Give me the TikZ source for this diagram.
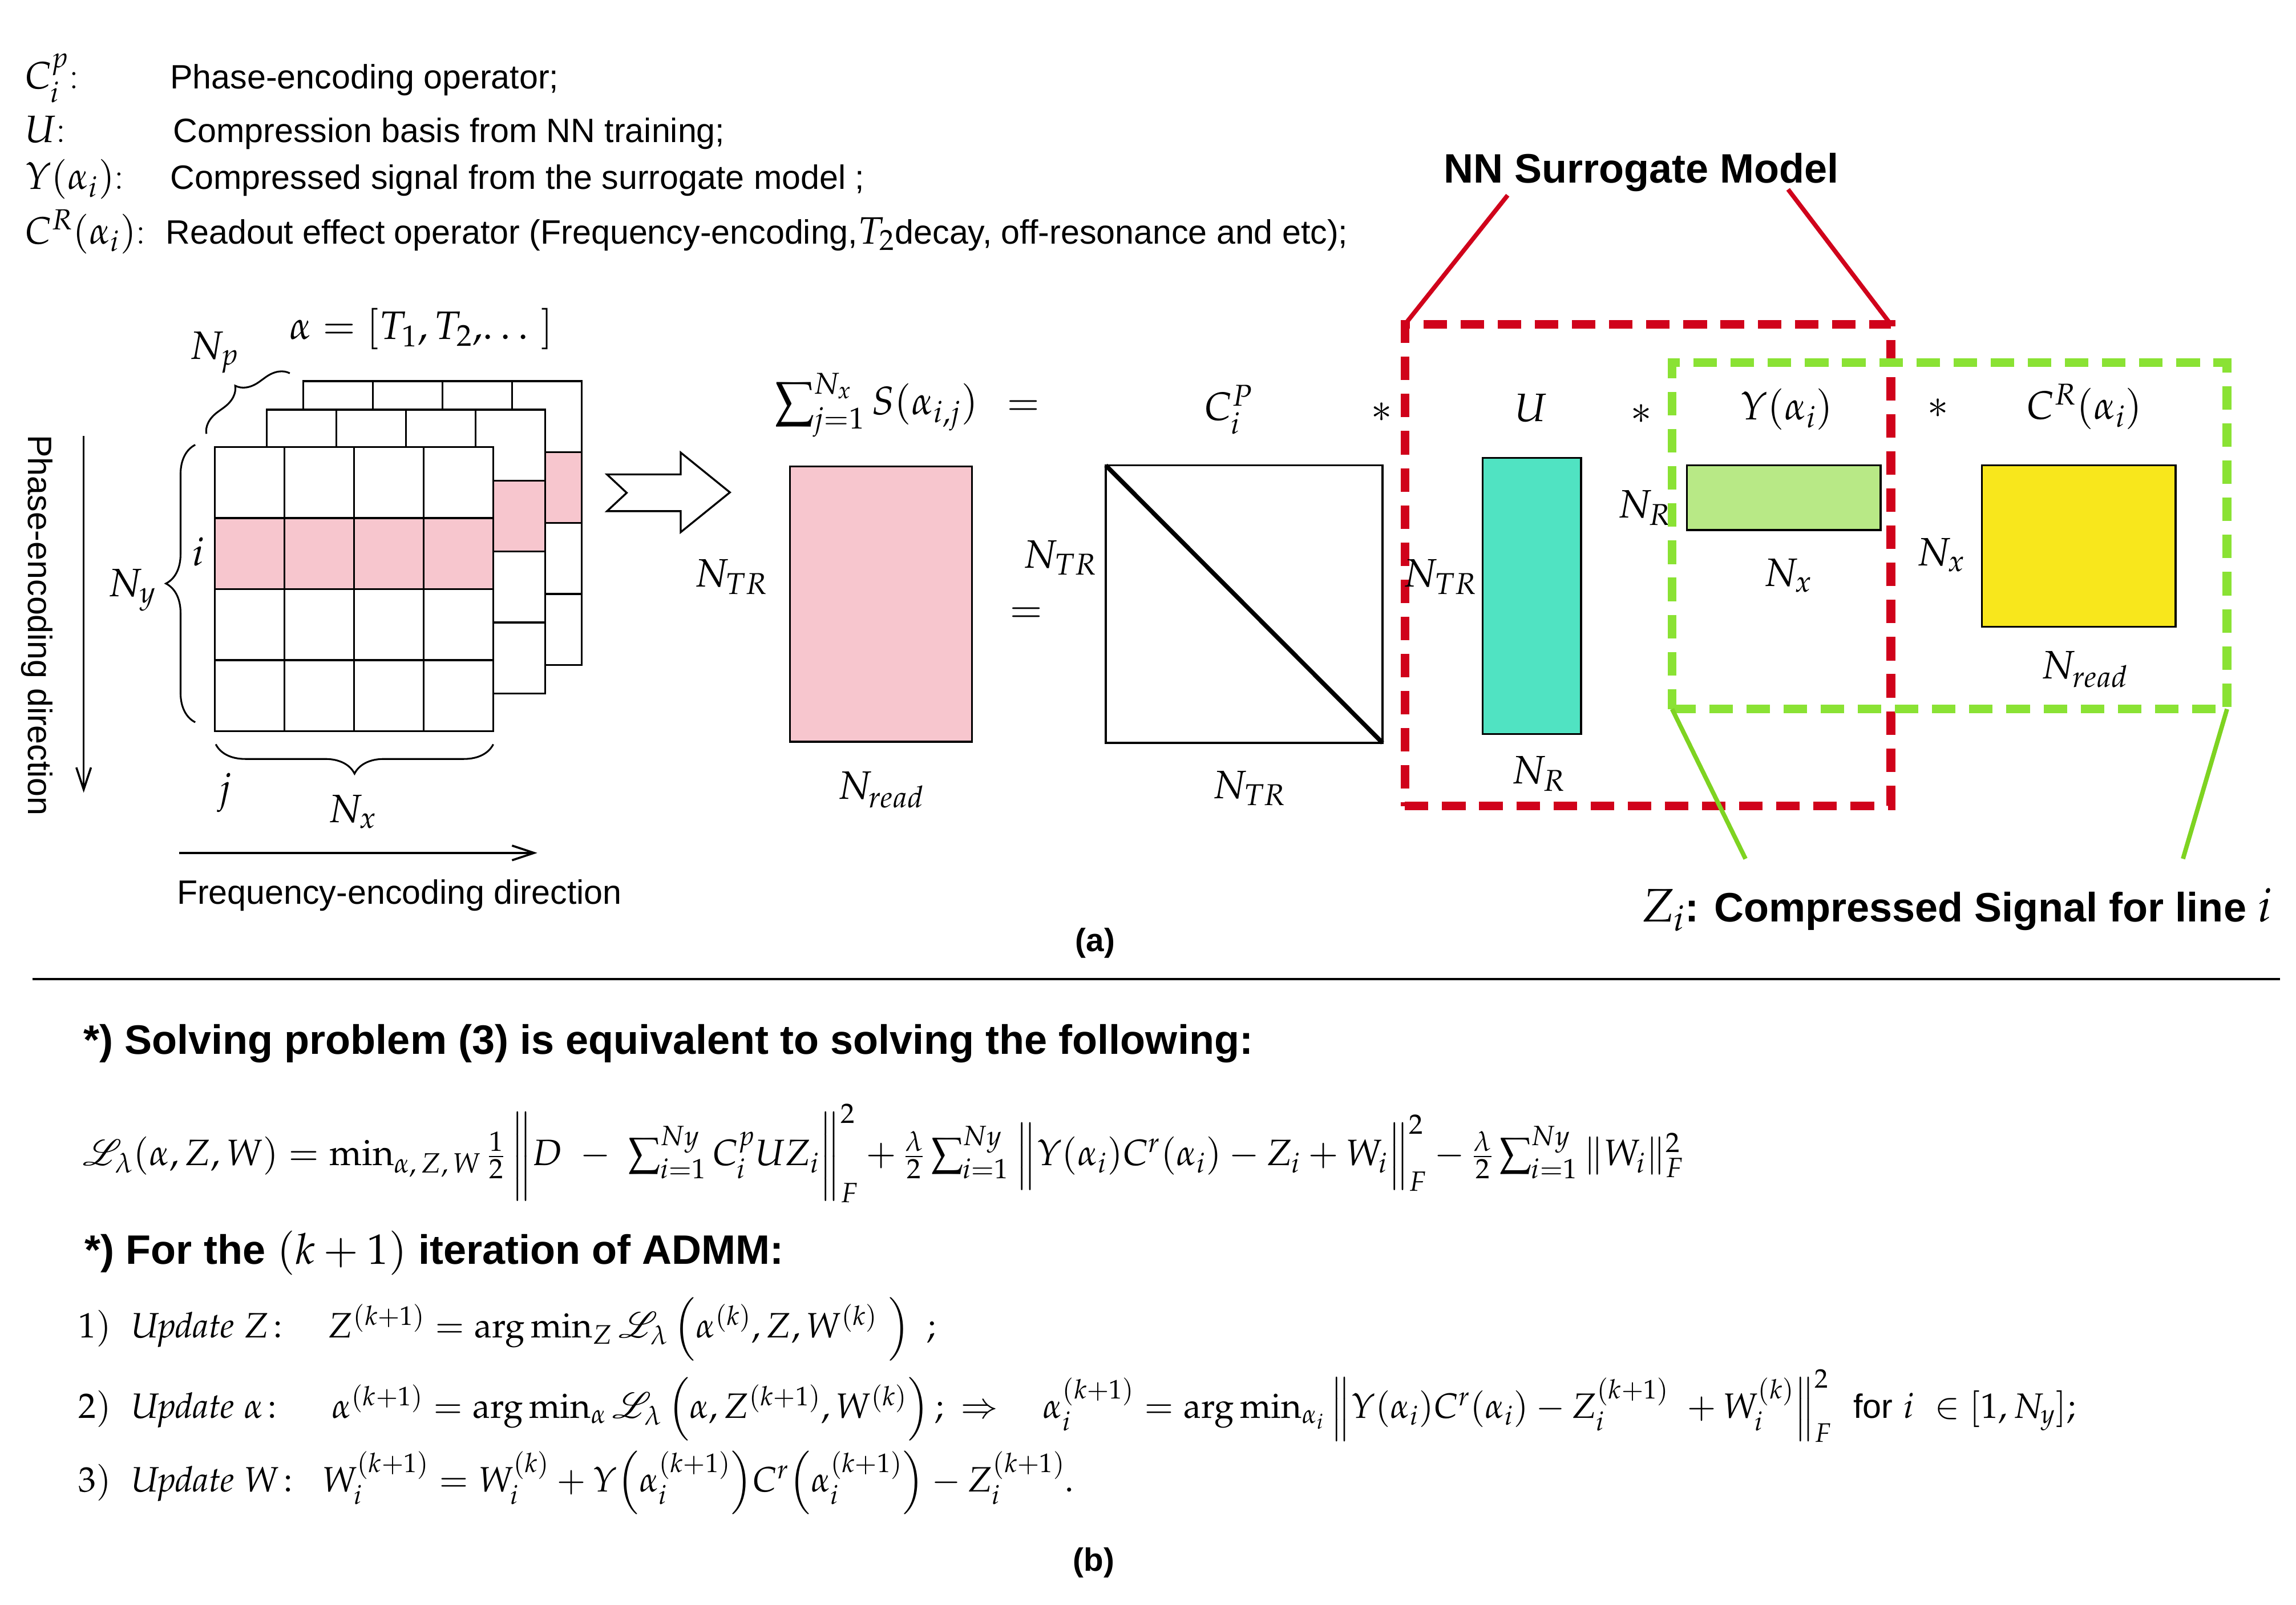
\documentclass[tikz,border=0pt]{standalone}
\usepackage{amsmath}
\usepackage{mathpazo}
\usepackage{mathrsfs}
\usepackage[no-math]{fontspec}
\newfontfamily\arial{Liberation Sans}
\usetikzlibrary{arrows.meta,decorations.pathreplacing}
\definecolor{redc}{HTML}{D0021B}
\definecolor{greenc}{HTML}{8AE234}
\definecolor{greenl}{HTML}{7ED321}
\definecolor{tealc}{HTML}{50E3C2}
\definecolor{lgreen}{HTML}{B8E986}
\definecolor{yellowc}{HTML}{F8E71C}
\definecolor{pinkc}{HTML}{F7C6CE}
\newcommand\bigsigma{\mathop{\vcenter{\hbox{\scalebox{1.25}{$\sum$}}}}\nolimits}
\newcommand\midsigma{\mathop{\vcenter{\hbox{\scalebox{1.1}{$\sum$}}}}\nolimits}
\newcommand\mrilayer[2]{%
  \fill[white] (#1,#2) rectangle ({#1+189.6},{#2+193.4});
  \fill[pinkc] (#1,{#2+48.35}) rectangle ({#1+189.6},{#2+96.7});
  \foreach \k in {1,2,3} {
    \draw[gridline] ({#1+\k*47.4},#2) -- ({#1+\k*47.4},{#2+193.4});
    \draw[gridline] (#1,{#2+\k*48.35}) -- ({#1+189.6},{#2+\k*48.35});
  }
  \draw[gridline] (#1,#2) rectangle ({#1+189.6},{#2+193.4});
}
\begin{document}
\begin{tikzpicture}[x=1pt,y=-1pt,
  every node/.style={inner sep=0pt, outer sep=0pt},
  txt/.style={font={\arial\fontsize{23}{27}\selectfont}},
  btxt/.style={font={\arial\bfseries\fontsize{28}{33}\selectfont}},
  mth/.style={font={\fontsize{27}{32}\selectfont}},
  lgm/.style={font={\fontsize{26}{30}\selectfont}},
  eqf/.style={font={\fontsize{25}{30}\selectfont}},
  updf/.style={font={\fontsize{24}{29}\selectfont}},
  mat/.style={draw=black, line width=1.3pt},
  gridline/.style={line width=1.3pt},
  brc/.style={decorate, decoration={brace, amplitude=#1}, line width=1.2pt},
  dirarrow/.style={line width=1.4pt, -{Straight Barb[length=15pt,width=10pt,line width=1.4pt]}},
  reddash/.style={draw=redc, line width=6pt, dash pattern=on 16pt off 9.3pt},
  grndash/.style={draw=greenc, line width=6pt, dash pattern=on 16pt off 9.3pt},
]
\fill[white] (0,0) rectangle (1564,1093);
\useasboundingbox (0,0) rectangle (1564,1093);

% ---------------- legend ----------------
\node[lgm, anchor=base west] (lg1m) at (17,60.5) {$C_i^p$:};
\node[txt, anchor=base west] (lg1t) at (116,60.5) {Phase-encoding operator;};
\node[lgm, anchor=base west] (lg2m) at (17,97) {$U$:};
\node[txt, anchor=base west] (lg2t) at (118,97) {Compression basis from NN training;};
\node[lgm, anchor=base west] (lg3m) at (17,129) {$Y(\alpha_i)$:};
\node[txt, anchor=base west] (lg3t) at (116,129) {Compressed signal from the surrogate model ;};
\node[lgm, anchor=base west] (lg4m) at (17,166) {$C^R(\alpha_i)$:};
\node[txt, anchor=base west] (lg4t) at (113,166) {Readout effect operator (Frequency-encoding,{\fontsize{26}{30}\selectfont$T_2$}decay, off-resonance and etc);};

% ---------------- k-space stack ----------------
\mrilayer{206.6}{259.6}
\mrilayer{181.8}{279.0}
\mrilayer{146.3}{304.6}

\draw[brc=20] (133,492) -- (133,303);
\draw[brc=20] (336,507) -- (147,507);
\draw[brc=15] (140.6,295.5) -- (197.5,254.2);

\node[mth] (alpha) at (287,224) {$\alpha = [T_1, T_2,\!\ldots\ ]$};
\node[mth] (Np) at (146,240) {$N_p$};
\node[mth] (Ny) at (90,402) {$N_y$};
\node[mth] (ii) at (135,376) {$i$};
\node[mth] (jj) at (153,540) {$j$};
\node[mth] (Nx1) at (240,553) {$N_x$};

\node[txt, rotate=-90] (pedir) at (25,426) {Phase-encoding direction};
\coordinate (pa1) at (57,297);
\coordinate (pa2) at (57,540);
\draw[dirarrow] (pa1) -- (pa2);
\node[txt] (fedir) at (272,610) {Frequency-encoding direction};
\coordinate (fa1) at (122,581);
\coordinate (fa2) at (366,581);
\draw[dirarrow] (fa1) -- (fa2);

% hollow block arrow
\draw[line width=1.3pt, fill=white] (413.5,323.2) -- (463.7,323.2) -- (463.7,308.3) -- (497.2,335.4)
  -- (463.7,362.5) -- (463.7,348.2) -- (413.5,348.2) -- (426.9,335.7) -- cycle;

% ---------------- signal = C * U * Y * C ----------------
\node[mth] (Ntr1) at (498,393) {$N_{TR}$};
\node[mat, fill=pinkc, minimum width=124pt, minimum height=187.5pt] (S) at (600,411.5) {};
\node[mth] (sum) at (597,276) {$\bigsigma_{j=1}^{N_x} S(\alpha_{i,j})$};
\node[mth] (eq1) at (697,278) {$=$};
\node[mth] (eq2) at (699,419) {$=$};
\node[mth] (Nread1) at (600,538) {$N_{read}$};

\node[mth] (Ntr2) at (722,380) {$N_{TR}$};
\node[mat, minimum width=188.5pt, minimum height=189pt] (Cp) at (847.5,411.5) {};
\draw[line width=3pt] (Cp.north west) -- (Cp.south east);
\node[mth] (Cplbl) at (837,279) {$C_i^P$};
\node[mth] (Ntr3) at (851,537) {$N_{TR}$};
\node[mth] (st1) at (941,281) {$*$};

% red dashed box (NN surrogate)
\node[reddash, minimum width=331pt, minimum height=328pt] (redbox) at (1122.5,385) {};
\node[mth] (Ulbl) at (1043,278) {$U$};
\node[mat, fill=tealc, minimum width=67pt, minimum height=188pt] (Ubox) at (1043.5,406) {};
\node[mth] (Ntr4) at (981,393) {$N_{TR}$};
\node[mth] (NR1) at (1048,527) {$N_R$};
\node[mth] (st2) at (1118,282) {$*$};
\node[mth] (NR2) at (1120,346) {$N_R$};

% green dashed box (Z_i)
\node[grndash, minimum width=378pt, minimum height=236pt] (grnbox) at (1328,365) {};
\node[mat, fill=lgreen, minimum width=132pt, minimum height=44pt] (Ybox) at (1215,339) {};
\node[mth] (Ylbl) at (1217,279) {$Y(\alpha_i)$};
\node[mth] (Nx2) at (1218,392) {$N_x$};
\node[mth] (st3) at (1320,278) {$*$};
\node[mth] (CRlbl) at (1420,277) {$C^R(\alpha_i)$};
\node[mth] (Nx3) at (1322,378) {$N_x$};
\node[mat, fill=yellowc, minimum width=132pt, minimum height=110pt] (CRbox) at (1416,372) {};
\node[mth] (Nread2) at (1420,456) {$N_{read}$};

% NN surrogate title and connectors
\node[btxt, anchor=base] (nnttl) at (1118,124.5) {NN Surrogate Model};
\coordinate (rl1) at (1027,133);
\coordinate (rl2) at (1218,129);
\draw[redc, line width=3pt] (rl1) -- (redbox.north west);
\draw[redc, line width=3pt] (rl2) -- (redbox.north east);

% Z_i label and connectors
\node[btxt, anchor=base] (zlbl) at (1333,628) {{\fontsize{32}{36}\selectfont\mdseries$Z_i$}: Compressed Signal for line {\fontsize{32}{36}\selectfont\mdseries$i$}};
\coordinate (gl1) at (1189,585);
\coordinate (gl2) at (1487,585);
\draw[greenl, line width=3pt] (grnbox.south west) -- (gl1);
\draw[greenl, line width=3pt] (grnbox.south east) -- (gl2);

\node[font={\arial\bfseries\fontsize{22}{26}\selectfont}, anchor=base] (capa) at (746,648) {(a)};

% separator
\coordinate (hr1) at (22,667);
\coordinate (hr2) at (1553,667);
\draw[line width=1.8pt] (hr1) -- (hr2);

% ---------------- part (b) ----------------
\node[btxt, anchor=base west] (t1) at (57,718) {*) Solving problem (3) is equivalent to solving the following:};
\node[eqf, anchor=base west] (lag) at (56.7,794) {$\mathscr{L}_\lambda(\alpha, Z, W) = \min_{\alpha,\,Z,\,W}\tfrac{1}{2}\left\|\vrule height 34pt depth 24pt width 0pt D \;-\; \midsigma_{i=1}^{Ny} C_i^p U Z_i\right\|_F^2 +\tfrac{\lambda}{2}\midsigma_{i=1}^{Ny}\left\|\vrule height 24pt depth 14pt width 0pt Y(\alpha_i)C^r(\alpha_i) - Z_i + W_i\right\|_F^2 - \tfrac{\lambda}{2}\midsigma_{i=1}^{Ny}\|W_i\|_F^2$};
\node[btxt, anchor=base west] (t2) at (57.9,861) {*) For the {\fontsize{29}{34}\selectfont\mdseries$(k+1)$} iteration of ADMM:};
\node[updf, anchor=base west] (up1) at (53.4,911.3) {$1)\;\;\mathit{Update}\;Z\!:\quad Z^{(k+1)} = \arg\min_Z\mathscr{L}_\lambda\left(\alpha^{(k)}, Z, W^{(k)}\ \right)\ ;$};
\node[updf, anchor=base west] (up2) at (53.4,966) {$2)\;\;\mathit{Update}\;\alpha\!:\quad\; \alpha^{(k+1)} = \arg\min_\alpha\mathscr{L}_\lambda\left(\alpha, Z^{(k+1)}, W^{(k)}\right);\ \Rightarrow\quad \alpha_i^{(k+1)} = \arg\min_{\alpha_i}\left\|Y(\alpha_i)C^r(\alpha_i) - Z_i^{(k+1)}\ + W_i^{(k)}\right\|_F^2$\ \ {\arial\fontsize{23}{27}\selectfont for} $i\ \in [1, N_y];$};
\node[updf, anchor=base west] (up3) at (53.4,1016) {$3)\;\;\mathit{Update}\;W\!:\;\; W_i^{(k+1)} = W_i^{(k)} + Y{\left(\alpha_i^{(k+1)}\right)}C^r{\left(\alpha_i^{(k+1)}\right)} - Z_i^{(k+1)}.$};
\node[font={\arial\bfseries\fontsize{22}{26}\selectfont}, anchor=base] (capb) at (745,1070) {(b)};
\end{tikzpicture}
\end{document}
